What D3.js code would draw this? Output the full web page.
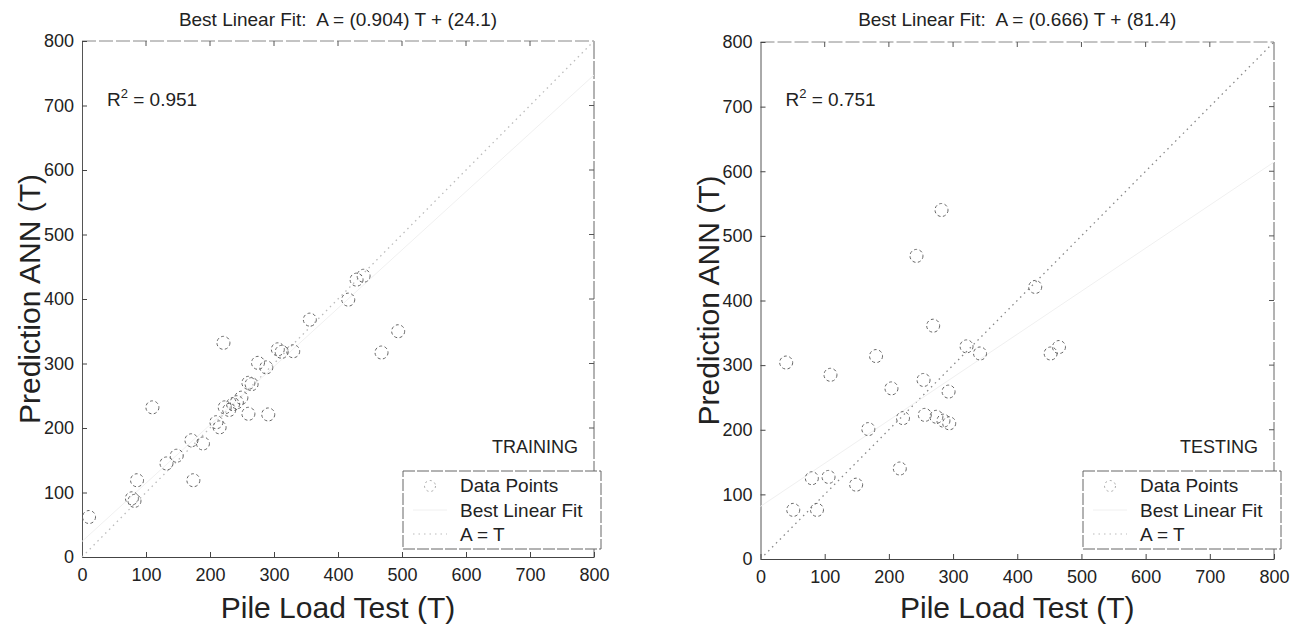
<!DOCTYPE html>
<html>
<head>
<meta charset="utf-8">
<script src="https://cdn.jsdelivr.net/npm/d3@7"></script>
<style>
  body { margin: 0; background: #fff; }
  text { font-family: "Liberation Sans", Arial, sans-serif; fill: #222; }
</style>
</head>
<body>
<div id="chart"></div>
<script>
// Axis ticks shared by both panels
const ticks = [0, 100, 200, 300, 400, 500, 600, 700, 800];

// Training set: pile load test (T) vs ANN prediction (A)
const trainT = [11, 78, 82, 86, 132, 148, 174, 171, 189, 110, 210, 215, 223, 230, 236, 242, 249, 260, 291, 260, 265, 275, 288, 306, 312, 330, 221, 356, 416, 429, 440, 468, 494];
const trainA = [62, 91, 87, 119, 145, 157, 119, 181, 176, 232, 209, 201, 232, 228, 237, 240, 247, 222, 221, 270, 268, 301, 294, 322, 318, 319, 332, 368, 399, 430, 436, 317, 350];

// Testing set
const testT = [40, 51, 88, 80, 106, 149, 109, 168, 180, 204, 217, 222, 243, 254, 256, 269, 274, 282, 285, 293, 294, 321, 342, 428, 452, 465];
const testA = [304, 76, 76, 125, 127, 115, 285, 201, 314, 264, 140, 218, 469, 277, 223, 361, 220, 540, 214, 259, 210, 329, 318, 421, 318, 328];

const trainFit = [0.904, 24.1];
const testFit = [0.666, 81.4];
const titles = ["Best Linear Fit:\u00a0 A = (0.904) T + (24.1)", "Best Linear Fit:\u00a0 A = (0.666) T + (81.4)"];
const r2Values = ["0.951", "0.751"];
const setNames = ["TRAINING", "TESTING"];
const legendLabels = ["Data Points", "Best Linear Fit", "A = T"];

var svg = d3.select("#chart").append("svg")
  .attr("width", 1308)
  .attr("height", 627);

var panels = [
  { left: 82, right: 594, top: 41, bottom: 557, T: trainT, A: trainA, fit: trainFit, title: titles[0], r2: r2Values[0], name: setNames[0], lineShade: "#bbb" },
  { left: 760.5, right: 1274, top: 42, bottom: 559, T: testT, A: testA, fit: testFit, title: titles[1], r2: r2Values[1], name: setNames[1], lineShade: "#888" }
];

panels.forEach(function (p) {
  var x = d3.scaleLinear().domain([0, 800]).range([p.left, p.right]);
  var y = d3.scaleLinear().domain([0, 800]).range([p.bottom, p.top]);
  var g = svg.append("g");

  // box: top and right edges look broken in the scan
  g.append("line").attr("x1", p.left).attr("x2", p.right).attr("y1", p.top).attr("y2", p.top)
    .attr("stroke", "#888").attr("stroke-width", 1).attr("stroke-dasharray", "14,3");
  g.append("line").attr("x1", p.right).attr("x2", p.right).attr("y1", p.top).attr("y2", p.bottom)
    .attr("stroke", "#666").attr("stroke-width", 1).attr("stroke-dasharray", "18,2");

  // bottom axis, ticks inward
  var xAxis = g.append("g").attr("transform", "translate(0," + p.bottom + ")")
    .call(d3.axisBottom(x).tickValues(ticks).tickSizeInner(-5).tickSizeOuter(0).tickPadding(11));
  xAxis.select(".domain").attr("stroke", "#444");
  xAxis.selectAll("line").attr("stroke", "#444");
  xAxis.selectAll("text").style("font-size", "18px").attr("fill", "#222");

  var yAxis = g.append("g").attr("transform", "translate(" + p.left + ",0)")
    .call(d3.axisLeft(y).tickValues(ticks).tickSizeInner(-5).tickSizeOuter(0).tickPadding(8));
  yAxis.select(".domain").attr("stroke", "#555");
  yAxis.selectAll("line").attr("stroke", "#444");
  yAxis.selectAll("text").style("font-size", "18px").attr("fill", "#222");

  // mirrored ticks on top and right
  g.selectAll(".tt").data(ticks.slice(1, -1)).enter().append("line")
    .attr("x1", d => x(d)).attr("x2", d => x(d)).attr("y1", p.top).attr("y2", p.top + 5)
    .attr("stroke", "#555");
  g.selectAll(".rt").data(ticks.slice(1, -1)).enter().append("line")
    .attr("x1", p.right).attr("x2", p.right - 5).attr("y1", d => y(d)).attr("y2", d => y(d))
    .attr("stroke", "#555");

  // A = T dotted line and best fit line
  g.append("line")
    .attr("x1", x(0)).attr("y1", y(0)).attr("x2", x(800)).attr("y2", y(800))
    .attr("stroke", p.lineShade).attr("stroke-width", 1.3).attr("stroke-dasharray", "1.5,4");
  g.append("line")
    .attr("x1", x(0)).attr("y1", y(p.fit[1])).attr("x2", x(800)).attr("y2", y(p.fit[0] * 800 + p.fit[1]))
    .attr("stroke", "#f0f0f0").attr("stroke-width", 1);

  // data circles
  g.selectAll(".pt").data(p.T).enter().append("circle")
    .attr("cx", d => x(d))
    .attr("cy", (d, i) => y(p.A[i]))
    .attr("r", 6.5)
    .attr("fill", "none")
    .attr("stroke", "#666")
    .attr("stroke-width", 1)
    .attr("stroke-dasharray", "3,2.5");

  // titles and annotations
  g.append("text").attr("x", (p.left + p.right) / 2).attr("y", 26)
    .attr("text-anchor", "middle").style("font-size", "19px").text(p.title);

  var r2 = g.append("text").attr("x", p.left + 25).attr("y", 106).style("font-size", "19px");
  r2.append("tspan").text("R");
  r2.append("tspan").attr("dy", -8).style("font-size", "13px").text("2");
  r2.append("tspan").attr("dy", 8).text(" = " + p.r2);

  g.append("text").attr("x", p.right - 16).attr("y", 453)
    .attr("text-anchor", "end").style("font-size", "18px").text(p.name);

  // axis labels
  g.append("text").attr("x", (p.left + p.right) / 2).attr("y", 618)
    .attr("text-anchor", "middle").style("font-size", "30px").text("Pile Load Test (T)");
  g.append("text")
    .attr("transform", "translate(" + (p.left - 42) + "," + ((p.top + p.bottom) / 2) + ") rotate(-90)")
    .attr("text-anchor", "middle").style("font-size", "30px").text("Prediction ANN (T)");

  // legend
  var lx = p.right - 191, ly = 471;
  g.append("rect").attr("x", lx).attr("y", ly).attr("width", 198).attr("height", 78)
    .attr("fill", "#fff").attr("stroke", "#666").attr("stroke-width", 1).attr("stroke-dasharray", "12,2");
  legendLabels.forEach(function (lab, i) {
    var by = ly + 21 + i * 24.5;
    g.append("text").attr("x", lx + 57).attr("y", by).style("font-size", "19px").text(lab);
  });
  g.append("circle").attr("cx", lx + 27).attr("cy", ly + 15).attr("r", 5.5)
    .attr("fill", "none").attr("stroke", "#aaa").attr("stroke-dasharray", "2,3");
  g.append("line").attr("x1", lx + 10).attr("x2", lx + 44).attr("y1", ly + 39).attr("y2", ly + 39)
    .attr("stroke", "#f0f0f0");
  g.append("line").attr("x1", lx + 10).attr("x2", lx + 44).attr("y1", ly + 63).attr("y2", ly + 63)
    .attr("stroke", "#bbb").attr("stroke-dasharray", "1.5,4");
});
</script>
</body>
</html>
